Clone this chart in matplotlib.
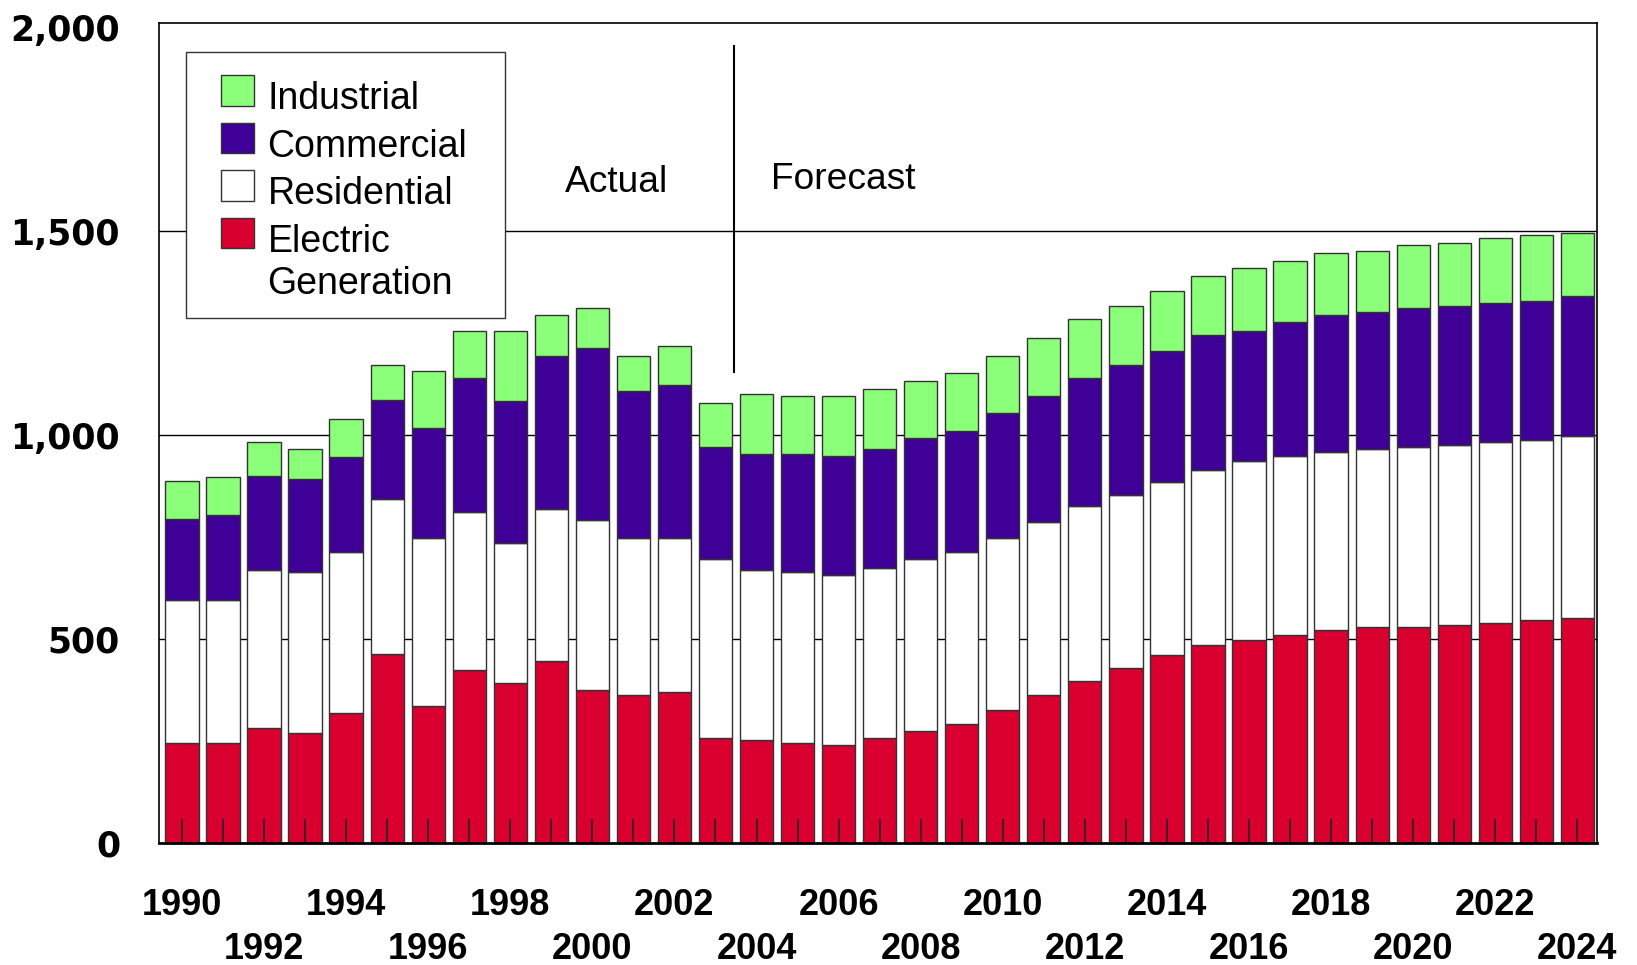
import numpy as np
import matplotlib
matplotlib.use("Agg")
import matplotlib.pyplot as plt
from matplotlib.patches import Rectangle
from matplotlib.container import BarContainer
from matplotlib.legend_handler import HandlerPatch, update_from_first_child

# years and sector values
years = np.arange(1990, 2025)

electric = [245, 245, 283, 270, 319, 463, 337, 424, 393, 445, 375, 362, 370,
            258, 252, 245, 240, 258, 275, 291, 326, 362, 398, 429, 460, 486,
            498, 509, 521, 529, 529, 534, 539, 547, 552]
residential = [350, 350, 386, 394, 394, 381, 411, 387, 343, 373, 417, 386, 378,
               437, 417, 419, 417, 416, 420, 422, 422, 425, 429, 425, 425, 429,
               438, 439, 438, 437, 442, 442, 445, 442, 445]
commercial = [200, 208, 231, 228, 233, 241, 269, 330, 348, 376, 422, 361, 374,
              276, 284, 289, 291, 292, 297, 297, 305, 309, 313, 317, 322, 330,
              319, 328, 335, 335, 341, 341, 340, 340, 345]
industrial = [92, 94, 84, 74, 94, 86, 140, 114, 170, 100, 97, 84, 97,
              107, 148, 143, 148, 148, 140, 142, 140, 141, 145, 146, 145, 146,
              154, 150, 153, 151, 153, 153, 158, 161, 153]

series_names = ["Electric\nGeneration", "Residential", "Commercial", "Industrial"]
colors = ["#d9002f", "#ffffff", "#3e0096", "#8cff7a"]

fig = plt.figure(figsize=(16.37, 9.65), dpi=100)
ax = fig.add_axes([0.0971, 0.12642, 0.8785, 0.84974])

bottom = np.zeros(len(years))
handles = []
for vals, name, col in zip([electric, residential, commercial, industrial], series_names, colors):
    b = ax.bar(years, vals, width=0.81, bottom=bottom, color=col,
               edgecolor="#333333", linewidth=1.0, label=name, zorder=1)
    handles.append(b)
    bottom = bottom + np.array(vals)

# horizontal grid lines behind the bars
for yv in [500, 1000, 1500]:
    ax.axhline(yv, color="black", linewidth=1.0, zorder=0.5)

ax.set_xlim(1989.44, 2024.48)
ax.set_ylim(0, 2010)

# actual / forecast divider
ax.plot([2003.45, 2003.45], [1155, 1953], color="black", linewidth=1.5, zorder=3)
ax.text(2000.6, 1596, "Actual", ha="center", va="baseline", fontsize=26.7,
        family="Liberation Sans")
ax.text(2006.12, 1603, "Forecast", ha="center", va="baseline", fontsize=26.7,
        family="Liberation Sans")

# y axis
ax.set_yticks([0, 500, 1000, 1500, 2000])
ax.set_yticklabels(["0", "500", "1,000", "1,500", "2,000"],
                   fontsize=25, fontweight="bold", family="DejaVu Sans")
ax.tick_params(axis="y", length=0, pad=28)

# x axis: ticks at every bar, labels staggered in two rows
xlabels = []
for y in years:
    k = (y - 1990) % 4
    if k == 0:
        xlabels.append(str(y))
    elif k == 2:
        xlabels.append("\n" + str(y))
    else:
        xlabels.append("")
ax.set_xticks(years)
ax.set_xticklabels(xlabels, fontsize=26, fontweight="bold", family="Liberation Sans")
for t in ax.get_xticklabels():
    t.set_linespacing(1.33)
ax.tick_params(axis="x", direction="in", length=17, width=1.2, color="#222222", pad=32.5)

for s in ax.spines.values():
    s.set_linewidth(1.2)
ax.spines["bottom"].set_linewidth(2.0)


# square legend swatch, nudged up so it sits on the first text line
def square(legend, orig_handle, xdescent, ydescent, width, height, fontsize):
    return Rectangle((-xdescent, -ydescent + 4.5), width, height)


# legend without its own frame, box drawn separately (wider side padding)
leg = ax.legend(handles[::-1], series_names[::-1], loc="upper left",
                bbox_to_anchor=(0.0431, 0.929), borderaxespad=0, borderpad=0,
                frameon=False, prop={"family": "Liberation Sans", "size": 27},
                handlelength=0.88, handleheight=0.88, handletextpad=0.36,
                labelspacing=0.31,
                handler_map={BarContainer: HandlerPatch(patch_func=square,
                                                        update_func=update_from_first_child)})
for col in leg._legend_handle_box.get_children():
    for row in col.get_children():
        row.align = "top"
ax.add_patch(Rectangle((0.0188, 0.6402), 0.2218, 0.3244, transform=ax.transAxes,
                       facecolor="white", edgecolor="#333333", linewidth=1.0, zorder=4))
leg.set_zorder(5)

fig.savefig("out.png", dpi=100)
